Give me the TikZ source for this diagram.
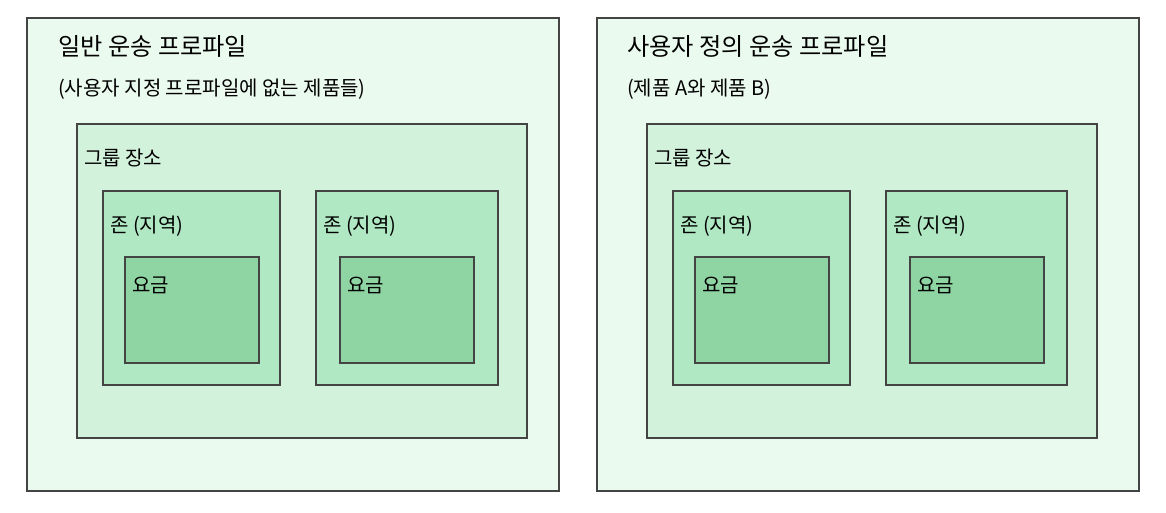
\documentclass[tikz,border=0pt]{standalone}
\usepackage{fontspec}
\setmainfont{Noto Sans CJK KR}
\definecolor{boxline}{HTML}{444444}
\definecolor{profgreen}{HTML}{EBFAEF}
\definecolor{grpgreen}{HTML}{D2F2DC}
\definecolor{zonegreen}{HTML}{AFE8C2}
\definecolor{rategreen}{HTML}{8FD4A3}
\tikzset{
	panel/.style={draw=boxline, line width=1.5pt, rectangle, inner sep=0pt, outer sep=0pt, anchor=north west},
	profbox/.style={panel, fill=profgreen},
	grpbox/.style={panel, fill=grpgreen},
	zonebox/.style={panel, fill=zonegreen},
	ratebox/.style={panel, fill=rategreen},
	bigtxt/.style={anchor=west, inner sep=0pt, font=\fontsize{24.2}{28}\selectfont},
	smalltxt/.style={anchor=west, inner sep=0pt, font=\fontsize{20}{24}\selectfont},
}
\begin{document}
\begin{tikzpicture}[x=1pt, y=-1pt]
	\useasboundingbox (0, 0) rectangle (1166, 512);

	% general profile
	\node[profbox, minimum width=532pt, minimum height=473pt] (gen) at(27, 18){};
		\node[bigtxt] (genttl) at([xshift=31pt, yshift=-28pt]gen.north west){일반 운송 프로파일};
		\node[smalltxt] (gensub) at([xshift=31pt, yshift=-71pt]gen.north west){(사용자 지정 프로파일에 없는 제품들)};
	\node[grpbox, minimum width=450pt, minimum height=314pt] (grpL) at(77, 124){};
		\node[smalltxt] (grpLlbl) at([xshift=7pt, yshift=-34pt]grpL.north west){그룹 장소};
	\node[zonebox, minimum width=177pt, minimum height=194pt] (zoneLa) at(103, 191){};
		\node[smalltxt] (zoneLalbl) at([xshift=7pt, yshift=-35pt]zoneLa.north west){존 (지역)};
	\node[zonebox, minimum width=182pt, minimum height=194pt] (zoneLb) at(316, 191){};
		\node[smalltxt] (zoneLblbl) at([xshift=7pt, yshift=-35pt]zoneLb.north west){존 (지역)};
	\node[ratebox, minimum width=134pt, minimum height=106pt] (rateLa) at(125, 257){};
		\node[smalltxt] (rateLalbl) at([xshift=7pt, yshift=-28pt]rateLa.north west){요금};
	\node[ratebox, minimum width=134pt, minimum height=106pt] (rateLb) at(340, 257){};
		\node[smalltxt] (rateLblbl) at([xshift=7pt, yshift=-28pt]rateLb.north west){요금};

	% custom profile
	\node[profbox, minimum width=542pt, minimum height=473pt] (cust) at(597, 18){};
		\node[bigtxt] (custttl) at([xshift=30pt, yshift=-28pt]cust.north west){사용자 정의 운송 프로파일};
		\node[smalltxt] (custsub) at([xshift=30pt, yshift=-71pt]cust.north west){(제품 A와 제품 B)};
	\node[grpbox, minimum width=450pt, minimum height=314pt] (grpR) at(647, 124){};
		\node[smalltxt] (grpRlbl) at([xshift=7pt, yshift=-34pt]grpR.north west){그룹 장소};
	\node[zonebox, minimum width=177pt, minimum height=194pt] (zoneRa) at(673, 191){};
		\node[smalltxt] (zoneRalbl) at([xshift=7pt, yshift=-35pt]zoneRa.north west){존 (지역)};
	\node[zonebox, minimum width=181pt, minimum height=194pt] (zoneRb) at(886, 191){};
		\node[smalltxt] (zoneRblbl) at([xshift=7pt, yshift=-35pt]zoneRb.north west){존 (지역)};
	\node[ratebox, minimum width=134pt, minimum height=106pt] (rateRa) at(695, 257){};
		\node[smalltxt] (rateRalbl) at([xshift=7pt, yshift=-28pt]rateRa.north west){요금};
	\node[ratebox, minimum width=134pt, minimum height=106pt] (rateRb) at(910, 257){};
		\node[smalltxt] (rateRblbl) at([xshift=7pt, yshift=-28pt]rateRb.north west){요금};
\end{tikzpicture}
\end{document}
